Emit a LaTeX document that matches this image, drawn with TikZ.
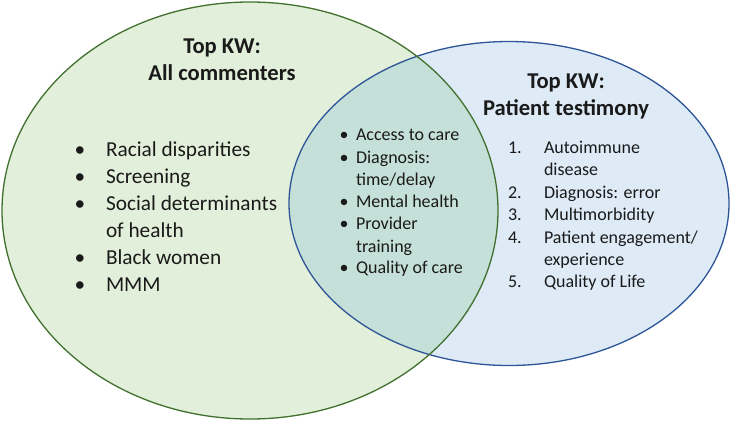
\documentclass[tikz,border=0pt]{standalone}
\usepackage{fontspec}
\setmainfont{Carlito}
\definecolor{gfill}{HTML}{E2EFDA}
\definecolor{bfill}{HTML}{DEEBF7}
\definecolor{ofill}{HTML}{C5E0D8}
\definecolor{gline}{HTML}{41702F}
\definecolor{bline}{HTML}{2E5597}
\definecolor{txt}{HTML}{1A1A1A}
\begin{document}
\begin{tikzpicture}[x=1pt,y=-1pt,
  every node/.style={inner sep=0pt,outer sep=0pt,text=txt},
  ttl/.style={font=\fontsize{22.6}{26}\selectfont\bfseries,anchor=base},
  bigitem/.style={font=\fontsize{21.3}{25}\selectfont,anchor=base west},
  bigbul/.style={font=\fontsize{21.3}{25}\selectfont,anchor=base},
  smitem/.style={font=\fontsize{18}{21}\selectfont,anchor=base west},
  smbul/.style={font=\fontsize{18}{21}\selectfont,anchor=base},
  numitem/.style={font=\fontsize{18}{21}\selectfont,anchor=base west}]
\useasboundingbox (0,0) rectangle (731,421);
% ellipses
\fill[gfill] (250,210.5) ellipse [x radius=248, y radius=208.5];
\fill[bfill] (509,203.5) ellipse [x radius=220, y radius=162];
\begin{scope}
  \clip (250,210.5) ellipse [x radius=248, y radius=208.5];
  \fill[ofill] (509,203.5) ellipse [x radius=220, y radius=162];
\end{scope}
\draw[bline,line width=1.3] (509,203.5) ellipse [x radius=220, y radius=162];
\draw[gline,line width=1.3] (250,210.5) ellipse [x radius=248, y radius=208.5];
% titles
\node[ttl] (t1a) at (222,53) {Top KW:};
\node[ttl] (t1b) at (222,80) {All commenters};
\node[ttl] (t2a) at (566,88) {Top KW:};
\node[ttl] (t2b) at (566,115) {Patient testimony};
% left list
\node[bigbul] (lb1) at (80,156) {•};
\node[bigitem] (l1) at (106,156) {Racial disparities};
\node[bigbul] (lb2) at (80,183) {•};
\node[bigitem] (l2) at (106,183) {Screening};
\node[bigbul] (lb3) at (80,210) {•};
\node[bigitem] (l3) at (106,210) {Social determinants};
\node[bigitem] (l3b) at (106,237) {of health};
\node[bigbul] (lb4) at (80,264) {•};
\node[bigitem] (l4) at (106,264) {Black women};
\node[bigbul] (lb5) at (80,291) {•};
\node[bigitem] (l5) at (106,291) {MMM};
% middle list
\node[smbul] (mb1) at (344,140) {•};
\node[smitem] (m1) at (356,140) {Access to care};
\node[smbul] (mb2) at (344,163) {•};
\node[smitem] (m2) at (356,163) {Diagnosis:};
\node[smitem] (m2b) at (356,185) {time/delay};
\node[smbul] (mb3) at (344,207) {•};
\node[smitem] (m3) at (356,207) {Mental health};
\node[smbul] (mb4) at (344,229) {•};
\node[smitem] (m4) at (356,229) {Provider};
\node[smitem] (m4b) at (356,252) {training};
\node[smbul] (mb5) at (344,273) {•};
\node[smitem] (m5) at (356,273) {Quality of care};
% right list
\node[numitem] (rn1) at (508,153) {1.};
\node[numitem] (r1) at (544,153) {Autoimmune};
\node[numitem] (r1b) at (544,175) {disease};
\node[numitem] (rn2) at (508,198) {2.};
\node[numitem] (r2) at (544,198) {Diagnosis: error};
\node[numitem] (rn3) at (508,220) {3.};
\node[numitem] (r3) at (544,220) {Multimorbidity};
\node[numitem] (rn4) at (508,243) {4.};
\node[numitem] (r4) at (544,243) {Patient engagement/};
\node[numitem] (r4b) at (544,265) {experience};
\node[numitem] (rn5) at (508,287) {5.};
\node[numitem] (r5) at (544,287) {Quality of Life};
\end{tikzpicture}
\end{document}
